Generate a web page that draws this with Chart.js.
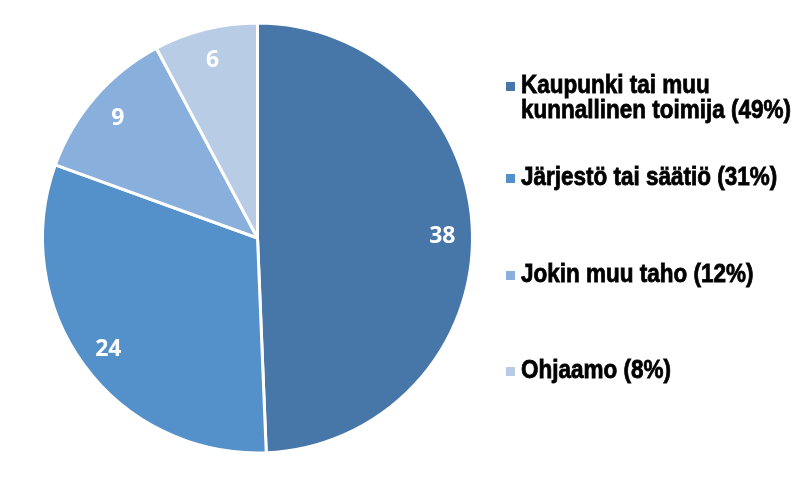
<!DOCTYPE html>
<html>
<head>
<meta charset="utf-8">
<script src="https://cdn.jsdelivr.net/npm/chart.js@4/dist/chart.umd.min.js"></script>
<style>
  html, body { margin: 0; padding: 0; background: #fff; }
  #wrap { width: 800px; height: 480px; position: relative; }
</style>
</head>
<body>
<div id="wrap"><canvas id="pieCanvas" width="800" height="480"></canvas></div>
<script>
// Data
const categories = ['Kaupunki tai muu\nkunnallinen toimija', 'Järjestö tai säätiö', 'Jokin muu taho', 'Ohjaamo'];
const counts = [38, 24, 9, 6];
const sliceColors = ['#4777a9', '#5490ca', '#89afdc', '#b8cce6'];

const total = counts.reduce((a, b) => a + b, 0);

// White numbers inside each slice, placed along the arc's middle angle
const sliceLabels = {
  id: 'sliceLabels',
  afterDatasetsDraw(chart) {
    let ctx = chart.ctx;
    let meta = chart.getDatasetMeta(0);
    ctx.save();
    ctx.fillStyle = '#ffffff';
    ctx.font = 'bold 23px "Open Sans", Lato, sans-serif';
    ctx.textAlign = 'center';
    ctx.textBaseline = 'middle';
    meta.data.forEach((arc, i) => {
      let p = arc.getProps(['x', 'y', 'startAngle', 'endAngle', 'outerRadius'], true);
      let mid = (p.startAngle + p.endAngle) / 2;
      let r = p.outerRadius * 0.86;
      let x = p.x + Math.cos(mid) * r;
      let y = p.y + Math.sin(mid) * r + 2;
      ctx.fillText(String(counts[i]), x, y);
    });
    ctx.restore();
  }
};

// Legend on the right: square marker + bold text with percentage
const sideLegend = {
  id: 'sideLegend',
  afterDraw(chart) {
    let ctx = chart.ctx;
    let baselines = [93, 185, 282, 378];
    let lineHeight = 25;
    ctx.save();
    ctx.textBaseline = 'alphabetic';
    ctx.textAlign = 'left';
    categories.forEach((name, i) => {
      let pct = Math.round(counts[i] / total * 100);
      let lines = (name + ' (' + pct + '%)').split('\n');
      let y = baselines[i];
      ctx.fillStyle = sliceColors[i];
      ctx.fillRect(506, y - 11, 9, 9);
      ctx.fillStyle = '#000000';
      ctx.strokeStyle = '#000000';
      ctx.lineWidth = 0.7;
      lines.forEach((line, j) => {
        ctx.save();
        ctx.translate(521, y + j * lineHeight);
        ctx.scale(1, 1.12);
        ctx.font = 'bold 22.5px "Liberation Sans", Arial, sans-serif';
        ctx.fillText(line, 0, 0);
        ctx.strokeText(line, 0, 0);
        ctx.restore();
      });
    });
    ctx.restore();
  }
};

new Chart(document.getElementById('pieCanvas'), {
  type: 'pie',
  data: {
    labels: categories,
    datasets: [{
      data: counts,
      backgroundColor: sliceColors,
      borderColor: '#ffffff',
      borderWidth: 3
    }]
  },
  options: {
    responsive: false,
    animation: false,
    radius: 215,
    layout: { padding: { left: 0, top: 0, right: 285, bottom: 4 } },
    plugins: {
      legend: { display: false },
      tooltip: { enabled: false }
    }
  },
  plugins: [sliceLabels, sideLegend]
});
</script>
</body>
</html>
